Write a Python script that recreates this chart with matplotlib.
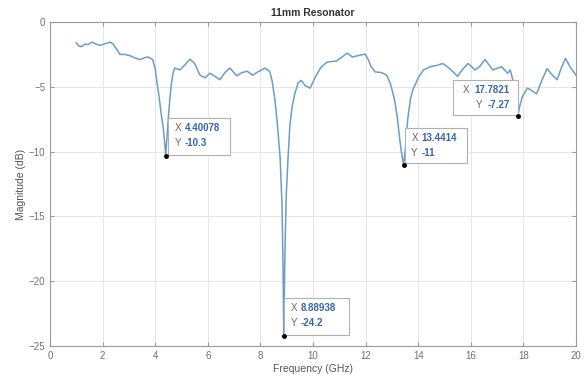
import numpy as np
import matplotlib
matplotlib.use('Agg')
import matplotlib.pyplot as plt
from matplotlib.patches import Rectangle
from matplotlib.transforms import offset_copy

plt.rcParams['font.family'] = ['Liberation Sans', 'DejaVu Sans']

# trace (GHz, dB)
freq = [1.0, 1.1, 1.2, 1.33, 1.45, 1.6, 1.75, 1.9, 2.05, 2.28, 2.4, 2.5, 2.66, 2.85,
        3.04, 3.2, 3.42, 3.6, 3.73, 3.9, 4.0, 4.07, 4.15, 4.22, 4.3, 4.36, 4.40078,
        4.45, 4.52, 4.6, 4.68, 4.75, 4.94, 5.13, 5.32, 5.5, 5.7, 5.9, 6.08, 6.2,
        6.35, 6.46, 6.65, 6.84, 6.95, 7.1, 7.3, 7.5, 7.7, 7.9, 8.05, 8.17, 8.28,
        8.36, 8.45, 8.55, 8.65, 8.75, 8.82, 8.86, 8.88938, 8.93, 8.98, 9.05, 9.12,
        9.2, 9.3, 9.43, 9.55, 9.7, 9.89, 10.1, 10.3, 10.53, 10.9, 11.1, 11.3, 11.5,
        11.7, 11.98, 12.1, 12.2, 12.36, 12.6, 12.8, 12.95, 13.1, 13.2, 13.3, 13.38,
        13.4414, 13.52, 13.6, 13.7, 13.8, 13.88, 14.0, 14.2, 14.45, 14.7, 14.94,
        15.2, 15.5, 15.66, 15.9, 16.16, 16.35, 16.54, 16.84, 17.17, 17.4, 17.5,
        17.6, 17.7, 17.7821, 17.85, 17.95, 18.15, 18.25, 18.5, 18.7, 18.9, 19.1,
        19.28, 19.45, 19.6, 19.77, 20.0]
mag = [-1.6, -1.85, -1.9, -1.7, -1.75, -1.55, -1.7, -1.8, -1.7, -1.55, -1.7, -2.0,
       -2.5, -2.5, -2.6, -2.75, -2.9, -2.75, -2.7, -2.9, -3.6, -4.7, -5.8, -7.0,
       -8.1, -9.3, -10.3, -8.8, -6.8, -5.0, -3.9, -3.55, -3.7, -3.3, -2.87, -3.2,
       -4.1, -4.3, -3.95, -4.1, -4.3, -4.45, -3.9, -3.55, -3.8, -4.15, -3.9, -3.8,
       -4.1, -3.85, -3.7, -3.55, -3.7, -3.85, -4.6, -6.0, -8.0, -10.5, -14.0,
       -19.0, -24.2, -18.0, -13.5, -10.5, -8.0, -6.6, -5.6, -4.7, -4.5, -4.9,
       -5.1, -4.2, -3.5, -3.1, -3.0, -2.7, -2.4, -2.7, -2.6, -2.47, -2.9, -3.4,
       -3.85, -3.9, -4.1, -4.8, -6.0, -7.3, -9.1, -10.3, -11.0, -9.6, -7.5, -6.0,
       -5.2, -4.86, -4.3, -3.7, -3.45, -3.35, -3.2, -3.6, -4.2, -3.7, -3.2, -3.7,
       -3.4, -2.9, -3.7, -3.45, -3.95, -3.7, -4.5, -5.8, -7.27, -6.6, -5.8, -5.1,
       -5.2, -5.55, -4.5, -3.6, -4.1, -4.45, -3.5, -2.8, -3.45, -4.1]

# data tips : point, texte, coin haut-gauche de la boite, largeur, hauteur
tip_x = [4.40078, 8.88938, 13.4414, 17.7821]
tip_y = [-10.3, -24.2, -11.0, -7.27]
tip_xlab = ['4.40078', '8.88938', '13.4414', '17.7821']
tip_ylab = ['-10.3', '-24.2', '-11', '-7.27']
box_left = [4.49, 8.90, 13.50, 15.32]
box_top = [-7.41, -21.3, -8.18, -4.48]
box_w = [2.35, 2.47, 2.36, 2.47]
box_h = [2.85, 2.85, 2.70, 2.70]
box_right_align = [False, False, False, True]

fig = plt.figure(figsize=(5.87, 3.77), dpi=100)
ax = fig.add_axes([0.0852, 0.0822, 0.8961, 0.8594])

ax.plot(freq, mag, color='#6b9dcb', lw=1.1)

ax.set_xlim(0, 20)
ax.set_ylim(-25, 0)
ax.set_xticks(np.arange(0, 21, 2))
ax.set_yticks(np.arange(-25, 1, 5))
ax.grid(True, color='#e6e6e6', lw=0.7)
ax.set_axisbelow(True)
for s in ax.spines.values():
    s.set_color('#9a9a9a')
    s.set_linewidth(0.8)
ax.tick_params(direction='in', length=3, colors='#9a9a9a', labelsize=7,
               labelcolor='#707070', top=True, right=True)

ax.set_title('11mm Resonator', fontsize=7.5, fontweight='bold', color='#333333', pad=4)
ax.set_xlabel('Frequency (GHz)', fontsize=7.5, color='#555555', labelpad=2)
ax.set_ylabel('Magnitude (dB)', fontsize=7.5, color='#555555', labelpad=2)

for i in range(len(tip_x)):
    ax.add_patch(Rectangle((box_left[i], box_top[i] - box_h[i]), box_w[i], box_h[i],
                           facecolor='white', edgecolor='#b0b0b0', lw=0.8, zorder=4))
    ax.plot(tip_x[i], tip_y[i], 'o', color='black', ms=2.5, zorder=5)
    if box_right_align[i]:
        xr = box_left[i] + box_w[i]
        tv = offset_copy(ax.transData, fig=fig, x=-6, y=0, units='points')
        for row, (lab, val) in enumerate([('X', tip_xlab[i]), ('Y', tip_ylab[i])]):
            yy = box_top[i] - (0.75 + row * 1.15)
            t = ax.text(xr, yy, val, transform=tv, ha='right', va='center',
                        fontsize=7, fontweight='bold', color='#3565ad', zorder=6)
            fig.canvas.draw()
            bb = t.get_window_extent()
            xl = ax.transData.inverted().transform((bb.x0, 0))[0]
            tl = offset_copy(ax.transData, fig=fig, x=-3.5, y=0, units='points')
            ax.text(xl, yy, lab, transform=tl, ha='right', va='center',
                    fontsize=7, color='#666666', zorder=6)
    else:
        tl = offset_copy(ax.transData, fig=fig, x=4.5, y=0, units='points')
        tv = offset_copy(ax.transData, fig=fig, x=12, y=0, units='points')
        for row, (lab, val) in enumerate([('X', tip_xlab[i]), ('Y', tip_ylab[i])]):
            yy = box_top[i] - (0.75 + row * 1.15)
            ax.text(box_left[i], yy, lab, transform=tl, ha='left', va='center',
                    fontsize=7, color='#666666', zorder=6)
            ax.text(box_left[i], yy, val, transform=tv, ha='left', va='center',
                    fontsize=7, fontweight='bold', color='#3565ad', zorder=6)

fig.savefig('out.png', dpi=100)
